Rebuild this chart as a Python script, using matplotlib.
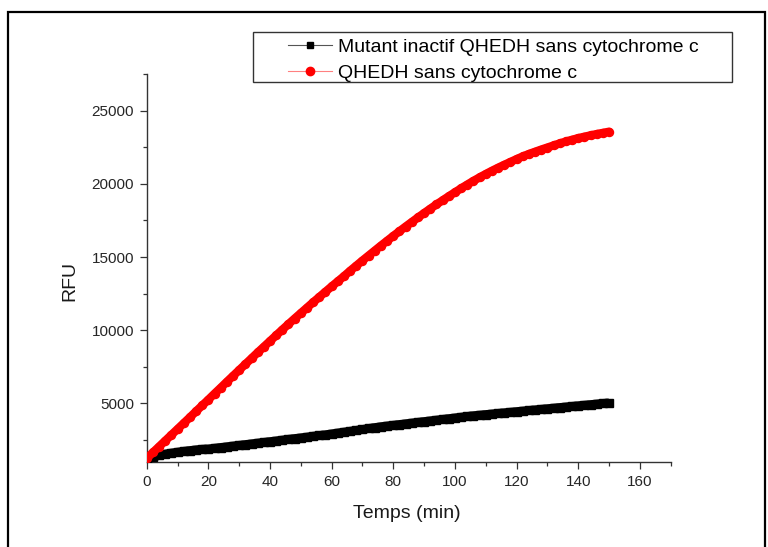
import matplotlib
matplotlib.use("Agg")
import matplotlib.pyplot as plt
from matplotlib.patches import Rectangle
from matplotlib.lines import Line2D
from matplotlib.ticker import MultipleLocator

plt.rcParams['font.family'] = ['Liberation Sans', 'DejaVu Sans']

# Time points (min)
temps = list(range(0, 152, 2))

# Fluorescence of the inactive mutant (no cytochrome c)
rfu_mutant = [
    1130, 1330, 1450, 1540, 1610, 1670, 1730, 1780, 1830, 1870,
    1890, 1940, 1990, 2040, 2090, 2140, 2190, 2240, 2290, 2340,
    2390, 2440, 2495, 2550, 2600, 2650, 2700, 2760, 2810, 2860,
    2920, 2980, 3040, 3100, 3160, 3220, 3290, 3350, 3410, 3460,
    3510, 3560, 3610, 3660, 3710, 3760, 3810, 3860, 3910, 3960,
    4010, 4060, 4110, 4160, 4200, 4240, 4280, 4320, 4360, 4400,
    4440, 4480, 4520, 4560, 4600, 4640, 4680, 4720, 4760, 4800,
    4840, 4880, 4920, 4960, 5000, 5030,
]

# Fluorescence of active QHEDH (no cytochrome c)
rfu_qhedh = [
    1250, 1650, 2050, 2450, 2850, 3250, 3650, 4050, 4460, 4860,
    5260, 5670, 6070, 6480, 6880, 7280, 7680, 8080, 8480, 8870,
    9260, 9650, 10040, 10420, 10800, 11170, 11540, 11910, 12270, 12630,
    12990, 13340, 13690, 14060, 14410, 14760, 15100, 15440, 15780, 16110,
    16440, 16760, 17080, 17390, 17700, 18000, 18300, 18590, 18870, 19150,
    19420, 19690, 19950, 20200, 20440, 20670, 20890, 21100, 21300, 21490,
    21690, 21870, 22040, 22190, 22340, 22480, 22620, 22760, 22890, 23010,
    23120, 23220, 23310, 23400, 23480, 23560,
]

label_mutant = "Mutant inactif QHEDH sans cytochrome c"
label_qhedh = "QHEDH sans cytochrome c"

W, H = 768, 547
fig = plt.figure(figsize=(W / 100, H / 100), dpi=100)


def fx(px):
    return px / W


def fy(py):
    return 1 - py / H


# Page frame and cropped caption
fig.patches.append(Rectangle((fx(8.3), fy(600)), fx(765) - fx(8.3), fy(12.3) - fy(600),
                             transform=fig.transFigure, fill=False,
                             edgecolor='black', linewidth=1.6, zorder=0))
fig.text(fx(20), fy(-7), "Figure", fontsize=22, family='Liberation Serif',
         va='baseline', ha='left', color='black')

ax = fig.add_axes([fx(146.7), fy(462), fx(670.7) - fx(146.7), fy(74) - fy(462)])

# Dense measurement series: markers overlap into a continuous band
ax.plot(temps, rfu_mutant, '-', color='black', lw=6.4, solid_capstyle='butt',
        solid_joinstyle='round', marker='s', ms=5.6, mfc='black', mec='black',
        zorder=3)
ax.plot(temps, rfu_qhedh, '-', color='red', lw=6.0, solid_capstyle='round',
        solid_joinstyle='round', marker='o', ms=5.8, mfc='red', mec='red',
        zorder=3)

ax.set_xlim(0, 170)
ax.set_ylim(1000, 27500)
ax.xaxis.set_major_locator(MultipleLocator(20))
ax.xaxis.set_minor_locator(MultipleLocator(10))
ax.set_yticks([5000, 10000, 15000, 20000, 25000])
ax.yaxis.set_minor_locator(MultipleLocator(2500))

for s in ('top', 'right'):
    ax.spines[s].set_visible(False)
for s in ('left', 'bottom'):
    ax.spines[s].set_color('#333333')
    ax.spines[s].set_linewidth(1.0)

ax.tick_params(which='major', direction='out', length=5, width=0.9,
               color='#333333', labelsize=11, labelcolor='#262626', pad=4)
ax.tick_params(which='minor', direction='out', length=2.7, width=0.9,
               color='#333333')

ax.set_xlabel("Temps (min)", fontsize=14, color='#1a1a1a', va='center')
ax.set_ylabel("RFU", fontsize=14, color='#1a1a1a', va='center')
ax.xaxis.set_label_coords((407 - 146.7) / 524, (462 - 513) / 388)
ax.yaxis.set_label_coords((70 - 146.7) / 524, (462 - 281) / 388)

# Legend box drawn as a separate frame
fig.patches.append(Rectangle((fx(253.3), fy(82.3)), fx(731.7) - fx(253.3), fy(32.3) - fy(82.3),
                             transform=fig.transFigure, fill=True, facecolor='white',
                             edgecolor='#333333', linewidth=1.0, zorder=5))
handles = [
    Line2D([], [], color='#555555', lw=0.8, marker='s', ms=5, mfc='black', mec='black'),
    Line2D([], [], color='#ff8080', lw=0.8, marker='o', ms=6, mfc='red', mec='red'),
]
leg = fig.legend(handles, [label_mutant, label_qhedh],
                 loc='upper left', bbox_to_anchor=(fx(288), fy(38)),
                 frameon=False, fontsize=14, borderpad=0, borderaxespad=0,
                 handlelength=2.27, handletextpad=0.3, labelspacing=0.44)
leg.set_zorder(6)

fig.savefig("out.png", dpi=100)
